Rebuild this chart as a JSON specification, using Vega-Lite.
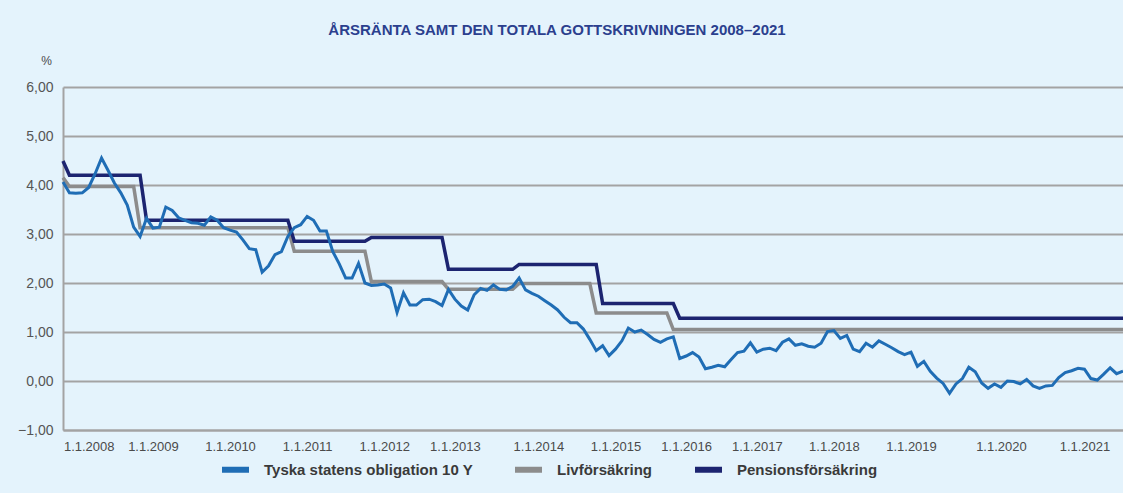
{
  "$schema": "https://vega.github.io/schema/vega-lite/v6.json",
  "width": 1060,
  "height": 343,
  "autosize": {"type": "none"},
  "padding": {"left": 63, "top": 87, "right": 0, "bottom": 63},
  "background": "#e4f3fc",
  "title": {
    "text": "ÅRSRÄNTA SAMT DEN TOTALA GOTTSKRIVNINGEN 2008–2021",
    "font": "Liberation Sans",
    "fontSize": 15,
    "fontWeight": "bold",
    "color": "#2b3f8e",
    "anchor": "middle",
    "frame": "group",
    "dx": -36,
    "offset": 16
  },
  "config": {
    "view": {"stroke": null},
    "font": "Liberation Sans"
  },
  "data": {
    "values": [
      {"n":0,"v":4.06,"serie":"Tyska statens obligation 10 Y"},
      {"n":1,"v":3.84,"serie":"Tyska statens obligation 10 Y"},
      {"n":2,"v":3.83,"serie":"Tyska statens obligation 10 Y"},
      {"n":3,"v":3.84,"serie":"Tyska statens obligation 10 Y"},
      {"n":4,"v":3.95,"serie":"Tyska statens obligation 10 Y"},
      {"n":5,"v":4.23,"serie":"Tyska statens obligation 10 Y"},
      {"n":6,"v":4.55,"serie":"Tyska statens obligation 10 Y"},
      {"n":7,"v":4.30,"serie":"Tyska statens obligation 10 Y"},
      {"n":8,"v":4.04,"serie":"Tyska statens obligation 10 Y"},
      {"n":9,"v":3.84,"serie":"Tyska statens obligation 10 Y"},
      {"n":10,"v":3.59,"serie":"Tyska statens obligation 10 Y"},
      {"n":11,"v":3.14,"serie":"Tyska statens obligation 10 Y"},
      {"n":12,"v":2.95,"serie":"Tyska statens obligation 10 Y"},
      {"n":13,"v":3.32,"serie":"Tyska statens obligation 10 Y"},
      {"n":14,"v":3.12,"serie":"Tyska statens obligation 10 Y"},
      {"n":15,"v":3.14,"serie":"Tyska statens obligation 10 Y"},
      {"n":16,"v":3.55,"serie":"Tyska statens obligation 10 Y"},
      {"n":17,"v":3.48,"serie":"Tyska statens obligation 10 Y"},
      {"n":18,"v":3.33,"serie":"Tyska statens obligation 10 Y"},
      {"n":19,"v":3.28,"serie":"Tyska statens obligation 10 Y"},
      {"n":20,"v":3.23,"serie":"Tyska statens obligation 10 Y"},
      {"n":21,"v":3.22,"serie":"Tyska statens obligation 10 Y"},
      {"n":22,"v":3.18,"serie":"Tyska statens obligation 10 Y"},
      {"n":23,"v":3.35,"serie":"Tyska statens obligation 10 Y"},
      {"n":24,"v":3.28,"serie":"Tyska statens obligation 10 Y"},
      {"n":25,"v":3.13,"serie":"Tyska statens obligation 10 Y"},
      {"n":26,"v":3.08,"serie":"Tyska statens obligation 10 Y"},
      {"n":27,"v":3.04,"serie":"Tyska statens obligation 10 Y"},
      {"n":28,"v":2.88,"serie":"Tyska statens obligation 10 Y"},
      {"n":29,"v":2.70,"serie":"Tyska statens obligation 10 Y"},
      {"n":30,"v":2.68,"serie":"Tyska statens obligation 10 Y"},
      {"n":31,"v":2.22,"serie":"Tyska statens obligation 10 Y"},
      {"n":32,"v":2.35,"serie":"Tyska statens obligation 10 Y"},
      {"n":33,"v":2.58,"serie":"Tyska statens obligation 10 Y"},
      {"n":34,"v":2.64,"serie":"Tyska statens obligation 10 Y"},
      {"n":35,"v":2.95,"serie":"Tyska statens obligation 10 Y"},
      {"n":36,"v":3.13,"serie":"Tyska statens obligation 10 Y"},
      {"n":37,"v":3.19,"serie":"Tyska statens obligation 10 Y"},
      {"n":38,"v":3.36,"serie":"Tyska statens obligation 10 Y"},
      {"n":39,"v":3.28,"serie":"Tyska statens obligation 10 Y"},
      {"n":40,"v":3.06,"serie":"Tyska statens obligation 10 Y"},
      {"n":41,"v":3.06,"serie":"Tyska statens obligation 10 Y"},
      {"n":42,"v":2.64,"serie":"Tyska statens obligation 10 Y"},
      {"n":43,"v":2.39,"serie":"Tyska statens obligation 10 Y"},
      {"n":44,"v":2.10,"serie":"Tyska statens obligation 10 Y"},
      {"n":45,"v":2.10,"serie":"Tyska statens obligation 10 Y"},
      {"n":46,"v":2.40,"serie":"Tyska statens obligation 10 Y"},
      {"n":47,"v":2.00,"serie":"Tyska statens obligation 10 Y"},
      {"n":48,"v":1.95,"serie":"Tyska statens obligation 10 Y"},
      {"n":49,"v":1.96,"serie":"Tyska statens obligation 10 Y"},
      {"n":50,"v":1.98,"serie":"Tyska statens obligation 10 Y"},
      {"n":51,"v":1.90,"serie":"Tyska statens obligation 10 Y"},
      {"n":52,"v":1.40,"serie":"Tyska statens obligation 10 Y"},
      {"n":53,"v":1.80,"serie":"Tyska statens obligation 10 Y"},
      {"n":54,"v":1.55,"serie":"Tyska statens obligation 10 Y"},
      {"n":55,"v":1.55,"serie":"Tyska statens obligation 10 Y"},
      {"n":56,"v":1.66,"serie":"Tyska statens obligation 10 Y"},
      {"n":57,"v":1.67,"serie":"Tyska statens obligation 10 Y"},
      {"n":58,"v":1.62,"serie":"Tyska statens obligation 10 Y"},
      {"n":59,"v":1.54,"serie":"Tyska statens obligation 10 Y"},
      {"n":60,"v":1.87,"serie":"Tyska statens obligation 10 Y"},
      {"n":61,"v":1.67,"serie":"Tyska statens obligation 10 Y"},
      {"n":62,"v":1.53,"serie":"Tyska statens obligation 10 Y"},
      {"n":63,"v":1.45,"serie":"Tyska statens obligation 10 Y"},
      {"n":64,"v":1.76,"serie":"Tyska statens obligation 10 Y"},
      {"n":65,"v":1.89,"serie":"Tyska statens obligation 10 Y"},
      {"n":66,"v":1.85,"serie":"Tyska statens obligation 10 Y"},
      {"n":67,"v":1.96,"serie":"Tyska statens obligation 10 Y"},
      {"n":68,"v":1.87,"serie":"Tyska statens obligation 10 Y"},
      {"n":69,"v":1.86,"serie":"Tyska statens obligation 10 Y"},
      {"n":70,"v":1.93,"serie":"Tyska statens obligation 10 Y"},
      {"n":71,"v":2.10,"serie":"Tyska statens obligation 10 Y"},
      {"n":72,"v":1.86,"serie":"Tyska statens obligation 10 Y"},
      {"n":73,"v":1.79,"serie":"Tyska statens obligation 10 Y"},
      {"n":74,"v":1.73,"serie":"Tyska statens obligation 10 Y"},
      {"n":75,"v":1.64,"serie":"Tyska statens obligation 10 Y"},
      {"n":76,"v":1.55,"serie":"Tyska statens obligation 10 Y"},
      {"n":77,"v":1.45,"serie":"Tyska statens obligation 10 Y"},
      {"n":78,"v":1.30,"serie":"Tyska statens obligation 10 Y"},
      {"n":79,"v":1.19,"serie":"Tyska statens obligation 10 Y"},
      {"n":80,"v":1.19,"serie":"Tyska statens obligation 10 Y"},
      {"n":81,"v":1.06,"serie":"Tyska statens obligation 10 Y"},
      {"n":82,"v":0.85,"serie":"Tyska statens obligation 10 Y"},
      {"n":83,"v":0.62,"serie":"Tyska statens obligation 10 Y"},
      {"n":84,"v":0.72,"serie":"Tyska statens obligation 10 Y"},
      {"n":85,"v":0.52,"serie":"Tyska statens obligation 10 Y"},
      {"n":86,"v":0.65,"serie":"Tyska statens obligation 10 Y"},
      {"n":87,"v":0.82,"serie":"Tyska statens obligation 10 Y"},
      {"n":88,"v":1.08,"serie":"Tyska statens obligation 10 Y"},
      {"n":89,"v":1.00,"serie":"Tyska statens obligation 10 Y"},
      {"n":90,"v":1.04,"serie":"Tyska statens obligation 10 Y"},
      {"n":91,"v":0.95,"serie":"Tyska statens obligation 10 Y"},
      {"n":92,"v":0.85,"serie":"Tyska statens obligation 10 Y"},
      {"n":93,"v":0.79,"serie":"Tyska statens obligation 10 Y"},
      {"n":94,"v":0.86,"serie":"Tyska statens obligation 10 Y"},
      {"n":95,"v":0.90,"serie":"Tyska statens obligation 10 Y"},
      {"n":96,"v":0.46,"serie":"Tyska statens obligation 10 Y"},
      {"n":97,"v":0.51,"serie":"Tyska statens obligation 10 Y"},
      {"n":98,"v":0.58,"serie":"Tyska statens obligation 10 Y"},
      {"n":99,"v":0.49,"serie":"Tyska statens obligation 10 Y"},
      {"n":100,"v":0.25,"serie":"Tyska statens obligation 10 Y"},
      {"n":101,"v":0.28,"serie":"Tyska statens obligation 10 Y"},
      {"n":102,"v":0.32,"serie":"Tyska statens obligation 10 Y"},
      {"n":103,"v":0.29,"serie":"Tyska statens obligation 10 Y"},
      {"n":104,"v":0.44,"serie":"Tyska statens obligation 10 Y"},
      {"n":105,"v":0.58,"serie":"Tyska statens obligation 10 Y"},
      {"n":106,"v":0.61,"serie":"Tyska statens obligation 10 Y"},
      {"n":107,"v":0.78,"serie":"Tyska statens obligation 10 Y"},
      {"n":108,"v":0.59,"serie":"Tyska statens obligation 10 Y"},
      {"n":109,"v":0.65,"serie":"Tyska statens obligation 10 Y"},
      {"n":110,"v":0.67,"serie":"Tyska statens obligation 10 Y"},
      {"n":111,"v":0.62,"serie":"Tyska statens obligation 10 Y"},
      {"n":112,"v":0.79,"serie":"Tyska statens obligation 10 Y"},
      {"n":113,"v":0.86,"serie":"Tyska statens obligation 10 Y"},
      {"n":114,"v":0.73,"serie":"Tyska statens obligation 10 Y"},
      {"n":115,"v":0.76,"serie":"Tyska statens obligation 10 Y"},
      {"n":116,"v":0.71,"serie":"Tyska statens obligation 10 Y"},
      {"n":117,"v":0.69,"serie":"Tyska statens obligation 10 Y"},
      {"n":118,"v":0.77,"serie":"Tyska statens obligation 10 Y"},
      {"n":119,"v":1.01,"serie":"Tyska statens obligation 10 Y"},
      {"n":120,"v":1.03,"serie":"Tyska statens obligation 10 Y"},
      {"n":121,"v":0.87,"serie":"Tyska statens obligation 10 Y"},
      {"n":122,"v":0.93,"serie":"Tyska statens obligation 10 Y"},
      {"n":123,"v":0.65,"serie":"Tyska statens obligation 10 Y"},
      {"n":124,"v":0.60,"serie":"Tyska statens obligation 10 Y"},
      {"n":125,"v":0.77,"serie":"Tyska statens obligation 10 Y"},
      {"n":126,"v":0.69,"serie":"Tyska statens obligation 10 Y"},
      {"n":127,"v":0.82,"serie":"Tyska statens obligation 10 Y"},
      {"n":128,"v":0.75,"serie":"Tyska statens obligation 10 Y"},
      {"n":129,"v":0.68,"serie":"Tyska statens obligation 10 Y"},
      {"n":130,"v":0.60,"serie":"Tyska statens obligation 10 Y"},
      {"n":131,"v":0.54,"serie":"Tyska statens obligation 10 Y"},
      {"n":132,"v":0.59,"serie":"Tyska statens obligation 10 Y"},
      {"n":133,"v":0.30,"serie":"Tyska statens obligation 10 Y"},
      {"n":134,"v":0.40,"serie":"Tyska statens obligation 10 Y"},
      {"n":135,"v":0.20,"serie":"Tyska statens obligation 10 Y"},
      {"n":136,"v":0.06,"serie":"Tyska statens obligation 10 Y"},
      {"n":137,"v":-0.05,"serie":"Tyska statens obligation 10 Y"},
      {"n":138,"v":-0.25,"serie":"Tyska statens obligation 10 Y"},
      {"n":139,"v":-0.06,"serie":"Tyska statens obligation 10 Y"},
      {"n":140,"v":0.05,"serie":"Tyska statens obligation 10 Y"},
      {"n":141,"v":0.28,"serie":"Tyska statens obligation 10 Y"},
      {"n":142,"v":0.19,"serie":"Tyska statens obligation 10 Y"},
      {"n":143,"v":-0.04,"serie":"Tyska statens obligation 10 Y"},
      {"n":144,"v":-0.15,"serie":"Tyska statens obligation 10 Y"},
      {"n":145,"v":-0.06,"serie":"Tyska statens obligation 10 Y"},
      {"n":146,"v":-0.13,"serie":"Tyska statens obligation 10 Y"},
      {"n":147,"v":0.00,"serie":"Tyska statens obligation 10 Y"},
      {"n":148,"v":-0.01,"serie":"Tyska statens obligation 10 Y"},
      {"n":149,"v":-0.06,"serie":"Tyska statens obligation 10 Y"},
      {"n":150,"v":0.03,"serie":"Tyska statens obligation 10 Y"},
      {"n":151,"v":-0.10,"serie":"Tyska statens obligation 10 Y"},
      {"n":152,"v":-0.15,"serie":"Tyska statens obligation 10 Y"},
      {"n":153,"v":-0.10,"serie":"Tyska statens obligation 10 Y"},
      {"n":154,"v":-0.09,"serie":"Tyska statens obligation 10 Y"},
      {"n":155,"v":0.07,"serie":"Tyska statens obligation 10 Y"},
      {"n":156,"v":0.17,"serie":"Tyska statens obligation 10 Y"},
      {"n":157,"v":0.21,"serie":"Tyska statens obligation 10 Y"},
      {"n":158,"v":0.26,"serie":"Tyska statens obligation 10 Y"},
      {"n":159,"v":0.24,"serie":"Tyska statens obligation 10 Y"},
      {"n":160,"v":0.05,"serie":"Tyska statens obligation 10 Y"},
      {"n":161,"v":0.02,"serie":"Tyska statens obligation 10 Y"},
      {"n":162,"v":0.14,"serie":"Tyska statens obligation 10 Y"},
      {"n":163,"v":0.27,"serie":"Tyska statens obligation 10 Y"},
      {"n":164,"v":0.15,"serie":"Tyska statens obligation 10 Y"},
      {"n":165,"v":0.20,"serie":"Tyska statens obligation 10 Y"},
      {"n":0,"v":4.15,"serie":"Livförsäkring"},
      {"n":1,"v":3.97,"serie":"Livförsäkring"},
      {"n":11,"v":3.97,"serie":"Livförsäkring"},
      {"n":12,"v":3.13,"serie":"Livförsäkring"},
      {"n":35,"v":3.13,"serie":"Livförsäkring"},
      {"n":36,"v":2.65,"serie":"Livförsäkring"},
      {"n":47,"v":2.65,"serie":"Livförsäkring"},
      {"n":48,"v":2.03,"serie":"Livförsäkring"},
      {"n":59,"v":2.03,"serie":"Livförsäkring"},
      {"n":60,"v":1.87,"serie":"Livförsäkring"},
      {"n":70,"v":1.87,"serie":"Livförsäkring"},
      {"n":71,"v":1.99,"serie":"Livförsäkring"},
      {"n":82,"v":1.99,"serie":"Livförsäkring"},
      {"n":83,"v":1.39,"serie":"Livförsäkring"},
      {"n":94,"v":1.39,"serie":"Livförsäkring"},
      {"n":95,"v":1.05,"serie":"Livförsäkring"},
      {"n":165,"v":1.05,"serie":"Livförsäkring"},
      {"n":0,"v":4.49,"serie":"Pensionsförsäkring"},
      {"n":1,"v":4.20,"serie":"Pensionsförsäkring"},
      {"n":12,"v":4.20,"serie":"Pensionsförsäkring"},
      {"n":13,"v":3.28,"serie":"Pensionsförsäkring"},
      {"n":35,"v":3.28,"serie":"Pensionsförsäkring"},
      {"n":36,"v":2.85,"serie":"Pensionsförsäkring"},
      {"n":47,"v":2.85,"serie":"Pensionsförsäkring"},
      {"n":48,"v":2.93,"serie":"Pensionsförsäkring"},
      {"n":59,"v":2.93,"serie":"Pensionsförsäkring"},
      {"n":60,"v":2.28,"serie":"Pensionsförsäkring"},
      {"n":70,"v":2.28,"serie":"Pensionsförsäkring"},
      {"n":71,"v":2.38,"serie":"Pensionsförsäkring"},
      {"n":83,"v":2.38,"serie":"Pensionsförsäkring"},
      {"n":84,"v":1.58,"serie":"Pensionsförsäkring"},
      {"n":95,"v":1.58,"serie":"Pensionsförsäkring"},
      {"n":96,"v":1.28,"serie":"Pensionsförsäkring"},
      {"n":165,"v":1.28,"serie":"Pensionsförsäkring"}
    ]
  },
  "encoding": {
    "x": {
      "field": "n",
      "type": "quantitative",
      "scale": {"domain": [0, 165], "nice": false, "zero": false},
      "axis": {
        "title": null,
        "values": [4, 14, 26, 38, 50, 61, 74, 86, 97, 108, 120, 132, 146, 159],
        "labelExpr": "['1.1.2008','1.1.2009','1.1.2010','1.1.2011','1.1.2012','1.1.2013','1.1.2014','1.1.2015','1.1.2016','1.1.2017','1.1.2018','1.1.2019','1.1.2020','1.1.2021'][indexof([4,14,26,38,50,61,74,86,97,108,120,132,146,159], datum.value)]",
        "grid": false,
        "ticks": false,
        "domain": true,
        "domainColor": "#a3a3a3",
        "domainWidth": 2,
        "labelFont": "Liberation Sans",
        "labelFontSize": 13,
        "labelColor": "#4a4a4a",
        "labelPadding": 10,
        "labelOverlap": false
      }
    },
    "y": {
      "field": "v",
      "type": "quantitative",
      "scale": {"domain": [-1, 6], "nice": false, "zero": false},
      "axis": {
        "title": "%",
        "titleAngle": 0,
        "titleX": -17,
        "titleY": -27,
        "titleAlign": "center",
        "titleBaseline": "middle",
        "titleFont": "Liberation Sans",
        "titleFontSize": 12,
        "titleFontWeight": "normal",
        "titleColor": "#4a4a4a",
        "values": [-1, 0, 1, 2, 3, 4, 5, 6],
        "labelExpr": "replace(format(datum.value, '.2f'), '.', ',')",
        "grid": true,
        "gridColor": "#a3a3a3",
        "gridWidth": 2,
        "ticks": false,
        "domain": true,
        "domainColor": "#a3a3a3",
        "domainWidth": 2,
        "labelFont": "Liberation Sans",
        "labelFontSize": 14,
        "labelColor": "#555555",
        "labelPadding": 10
      }
    },
    "color": {
      "field": "serie",
      "type": "nominal",
      "scale": {
        "domain": ["Tyska statens obligation 10 Y", "Livförsäkring", "Pensionsförsäkring"],
        "range": ["#1f6db5", "#8c8c8c", "#1c2470"]
      },
      "legend": {
        "title": null,
        "orient": "none",
        "direction": "horizontal",
        "legendX": 156,
        "legendY": 366,
        "symbolType": "stroke",
        "symbolStrokeWidth": 6,
        "symbolSize": 729,
        "labelFont": "Liberation Sans",
        "labelFontSize": 15,
        "labelFontWeight": "bold",
        "labelColor": "#3a3a3a",
        "labelOffset": 12,
        "columnPadding": 30,
        "labelLimit": 400
      }
    }
  },
  "layer": [
    {
      "transform": [{"filter": "datum.serie != 'Tyska statens obligation 10 Y'"}],
      "mark": {"type": "line", "strokeWidth": 3.5}
    },
    {
      "transform": [{"filter": "datum.serie == 'Tyska statens obligation 10 Y'"}],
      "mark": {"type": "line", "strokeWidth": 3}
    }
  ]
}
